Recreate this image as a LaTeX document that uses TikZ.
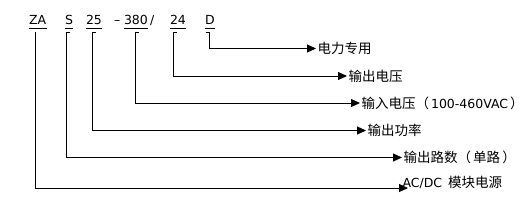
\documentclass[tikz,border=0pt]{standalone}
\usepackage{fontspec}
\setmainfont{DejaVu Sans}
\newfontfamily\cjk{Noto Sans CJK SC}
\newcommand{\zh}[1]{{\cjk\fontsize{13.5}{15}\selectfont #1}}
\usetikzlibrary{arrows.meta}
\begin{document}
\begin{tikzpicture}[x=1pt,y=-1pt,line width=1pt,>={Triangle[length=9pt,width=8pt]},
    font=\fontsize{12.5}{15}\selectfont,
    code/.style={anchor=base west,inner sep=0pt},
    lbl/.style={anchor=west,inner sep=1pt}]
    \useasboundingbox (0,0) rectangle (525,206);
    % model number
    \node[code] (za) at (28.5,24) {ZA};
    \node[code] (s) at (64.5,24) {S};
    \node[code] (pw) at (85.5,24) {25};
    \node[code] (dash) at (113.5,24) {–};
    \node[code] (vin) at (123.5,24) {380};
    \node[code] (sl) at (149.5,24) {/};
    \node[code] (vout) at (169.5,24) {24};
    \node[code] (d) at (204.5,24) {D};
    \foreach \c in {za,s,pw,vin,vout,d}
      \draw[line width=.8pt] ([yshift=-4pt]\c.base west) -- ([yshift=-4pt]\c.base east);
    % meanings
    \node[lbl] (l1) at (316,48.5) {\zh{电力专用}};
    \node[lbl] (l2) at (347,76) {\zh{输出电压}};
    \node[lbl] (l3) at (360,103) {\zh{输入电压（}\,100-460VAC\,\zh{）}};
    \node[lbl] (l4) at (366,130.5) {\zh{输出功率}};
    \node[lbl] (l5) at (402,157.5) {\zh{输出路数（\,单路\,）}};
    \coordinate (t6) at (408,188);
    \node[lbl] (l6) at (401,182.5) {AC/DC\, \zh{模块电源}};
    % leaders
    \draw[->] (205.5,32) -- (209.3,32) |- (l1);
    \draw[->] (177,32) -- (173.3,32) |- (l2);
    \draw[->] (139,32) -- (135,32) |- (l3);
    \draw[->] (96,32) -- (92.7,32) |- (l4);
    \draw[->] (69.5,32) -- (66,32) |- (l5);
    \draw[->] (35.5,32) |- (t6);
\end{tikzpicture}
\end{document}
